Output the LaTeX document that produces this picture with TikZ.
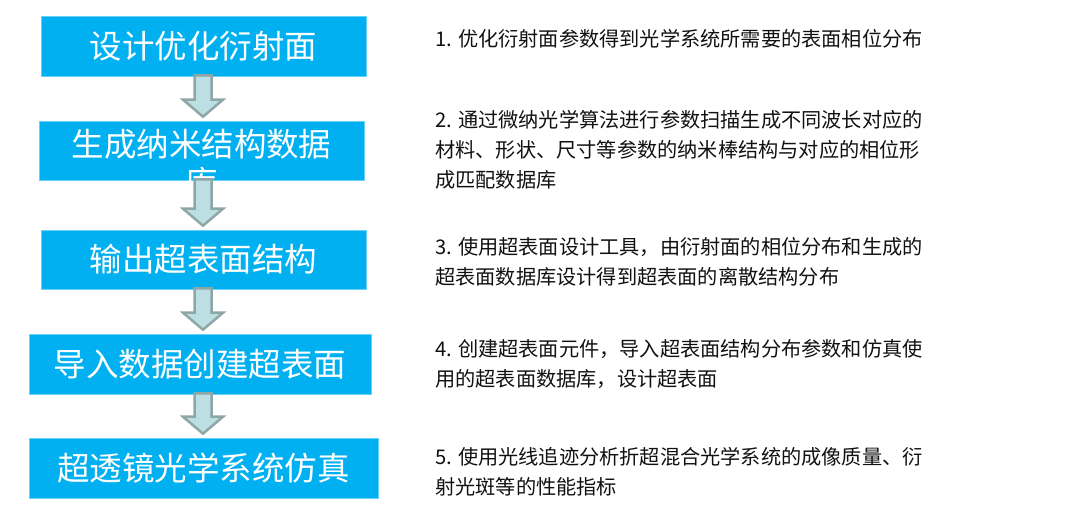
\documentclass[tikz,border=0pt]{standalone}
\usepackage{fontspec}
\setmainfont{Noto Sans CJK SC}
\newfontfamily\cjkfont{Noto Sans CJK SC}
\usetikzlibrary{calc}
\definecolor{boxblue}{HTML}{00B0F0}
\definecolor{arrowfill}{HTML}{BCDFE4}
\definecolor{arrowline}{HTML}{8FA6A6}
\definecolor{textgray}{HTML}{111111}
\tikzset{
  stepbox/.style={fill=boxblue, draw=boxblue!60!white, line width=0.6pt, inner sep=0pt,
    text=white, font=\cjkfont\fontsize{32.5}{38}\selectfont, align=center},
  desc/.style={anchor=west, inner sep=0pt, align=left, text=textgray,
    font=\cjkfont\fontsize{20.2}{30}\selectfont},
  blockarrow/.style={fill=arrowfill, draw=arrowline, line width=2.5pt, line join=miter}
}
\newcommand\downblock[2]{%
  \path[blockarrow] let \p1=(#1.south), \p2=(#2.north) in
    (194.5pt,\y1+1pt) -- (194.5pt,\y2+21pt) -- (183pt,\y2+21pt) -- (203pt,\y2+4pt)
    -- (223pt,\y2+21pt) -- (211.5pt,\y2+21pt) -- (211.5pt,\y1+1pt) -- cycle;}
\begin{document}
\begin{tikzpicture}[x=1pt,y=-1pt]
\useasboundingbox (0,0) rectangle (1080,526);
% boxes
\node[stepbox, minimum width=325pt, minimum height=60pt] (b1) at (203.5,46) {设计优化衍射面};
\node[stepbox, minimum width=325pt, minimum height=59pt] (b2) at (201.5,150.5) {};
\node[text=white, inner sep=0pt, font=\cjkfont\fontsize{32.5}{38}\selectfont, anchor=north] (b2t) at (201.5,129) {生成纳米结构数据};
\node[text=white, inner sep=0pt, font=\cjkfont\fontsize{32.5}{38}\selectfont, anchor=north] (b2u) at (201.5,167) {库};
\node[stepbox, minimum width=325pt, minimum height=59pt] (b3) at (203.5,259.5) {输出超表面结构};
\node[stepbox, minimum width=342pt, minimum height=60pt] (b4) at (200,364) {导入数据创建超表面};
\node[stepbox, minimum width=349pt, minimum height=60pt] (b5) at (203.5,468) {超透镜光学系统仿真};
% arrows
\downblock{b1}{b2}
\downblock{b2}{b3}
\downblock{b3}{b4}
\downblock{b4}{b5}
% descriptions
\node[desc] (t1) at (435,39) {1. 优化衍射面参数得到光学系统所需要的表面相位分布};
\node[desc] (t2) at (435,150) {2. 通过微纳光学算法进行参数扫描生成不同波长对应的\\材料、形状、尺寸等参数的纳米棒结构与对应的相位形\\成匹配数据库};
\node[desc] (t3) at (435,262) {3. 使用超表面设计工具，由衍射面的相位分布和生成的\\超表面数据库设计得到超表面的离散结构分布};
\node[desc] (t4) at (435,364) {4. 创建超表面元件，导入超表面结构分布参数和仿真使\\用的超表面数据库，设计超表面};
\node[desc] (t5) at (435,472) {5. 使用光线追迹分析折超混合光学系统的成像质量、衍\\射光斑等的性能指标};
\end{tikzpicture}
\end{document}
